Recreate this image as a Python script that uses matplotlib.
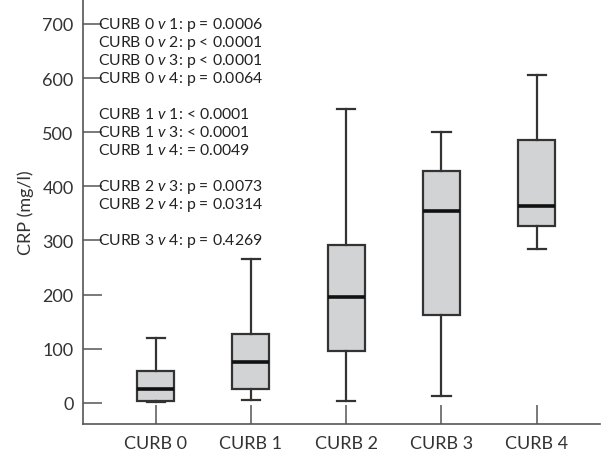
import matplotlib
matplotlib.use("Agg")
import matplotlib.pyplot as plt

categories = ["CURB 0", "CURB 1", "CURB 2", "CURB 3", "CURB 4"]
whislo = [1, 6, 4, 13, 284]
q1 = [4, 25, 96, 163, 326]
med = [25, 76, 196, 355, 364]
q3 = [58, 127, 292, 429, 486]
whishi = [120, 265, 543, 501, 606]
yticks = [0, 100, 200, 300, 400, 500, 600, 700]

annotations = [
    ("0", "1", ": p = 0.0006"),
    ("0", "2", ": p < 0.0001"),
    ("0", "3", ": p < 0.0001"),
    ("0", "4", ": p = 0.0064"),
    None,
    ("1", "1", ": < 0.0001"),
    ("1", "3", ": < 0.0001"),
    ("1", "4", ": = 0.0049"),
    None,
    ("2", "3", ": p = 0.0073"),
    ("2", "4", ": p = 0.0314"),
    None,
    ("3", "4", ": p = 0.4269"),
]

plt.rcParams['font.family'] = ['Lato', 'DejaVu Sans']
plt.rcParams['mathtext.fontset'] = 'custom'
plt.rcParams['mathtext.it'] = 'Lato:italic'
plt.rcParams['mathtext.rm'] = 'Lato'

fig = plt.figure(figsize=(6.01, 4.52), dpi=100)
ax = fig.add_axes([0.1385, 0.0597, 0.86, 0.9403])

stats = []
for i in range(len(categories)):
    stats.append(dict(whislo=whislo[i], q1=q1[i], med=med[i], q3=q3[i],
                      whishi=whishi[i], fliers=[], label=categories[i]))

edge = "#333333"
ax.bxp(stats, positions=range(1, 6), widths=0.39, patch_artist=True,
       showfliers=False,
       boxprops=dict(facecolor="#d2d3d5", edgecolor=edge, linewidth=1.6),
       whiskerprops=dict(color=edge, linewidth=1.6),
       capprops=dict(color=edge, linewidth=1.6),
       medianprops=dict(color="#111111", linewidth=2.6),
       capwidths=0.19)

ax.set_xlim(0.24, 5.665)
ax.set_ylim(-39, 746)
ax.set_yticks(yticks)
ax.set_xticks(range(1, 6))
ax.set_xticklabels(categories)

for s in ["top", "right"]:
    ax.spines[s].set_visible(False)
for s in ["left", "bottom"]:
    ax.spines[s].set_color("#555555")
    ax.spines[s].set_linewidth(1.2)

ax.tick_params(axis="both", direction="in", length=14, width=1.1,
               color="#555555", labelsize=13, labelcolor="#333333")
ax.tick_params(axis="y", pad=7)
ax.tick_params(axis="x", pad=8)
ax.set_ylabel("CRP (mg/l)", fontsize=13, color="#333333", labelpad=6)

y = 700
step = 33.2
for a in annotations:
    if a is not None:
        txt = "CURB %s $\\mathit{v}$ %s%s" % a
        ax.text(0.40, y, txt, fontsize=11.3, color="#222222",
                va="center", ha="left")
    y -= step

fig.savefig("out.png", dpi=100)
